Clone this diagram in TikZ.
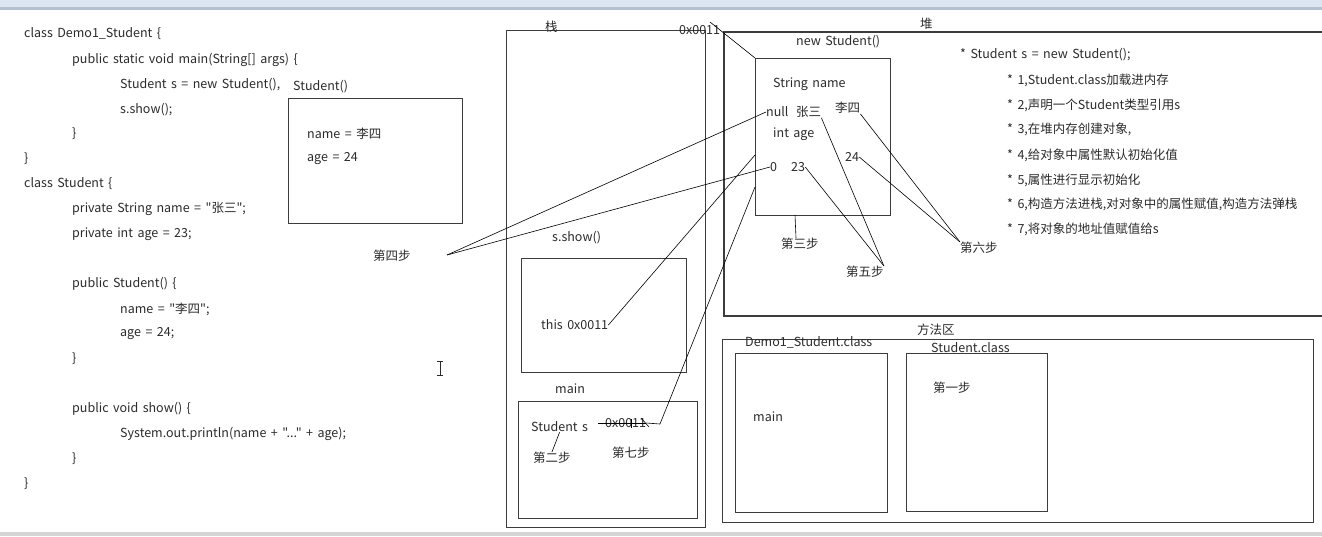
\documentclass[tikz,border=0pt]{standalone}
\usepackage{fontspec}
\newfontfamily\cf[WordSpace=1.6]{Noto Sans CJK SC}
\definecolor{txtgray}{HTML}{2B2B2B}
\definecolor{boxgray}{HTML}{3C3C3C}
\definecolor{topblue}{HTML}{DCE6F2}
\definecolor{topline}{HTML}{B4C0CE}
\definecolor{botgray}{HTML}{D4D4D4}
\begin{document}
\begin{tikzpicture}[x=1pt,y=-1pt,
  font=\cf\fontsize{12.5}{14}\selectfont,
  txt/.style={anchor=west, inner sep=0pt, text=txtgray},
  box/.style={draw=boxgray, line width=1.1pt, anchor=north west, inner sep=0pt, rectangle},
  wire/.style={draw=black, line width=0.6pt}]
\useasboundingbox (0,0) rectangle (1322,536);
% screenshot bands
\fill[topblue] (0,0) rectangle (1322,7);
\fill[topline] (0,7) rectangle (1322,10);
\fill[botgray] (0,532) rectangle (1322,536);

% ---------- code ----------
\node[txt] (c1) at (24,34) {class Demo1\_Student \{};
\node[txt] (c2) at (72,60) {public static void main(String[] args) \{};
\node[txt] (c3) at (120,85) {Student s = new Student(),};
\node[txt] (c4) at (120,110) {s.show();};
\node[txt] (c5) at (72,134) {\}};
\node[txt] (c6) at (24,159) {\}};
\node[txt] (c7) at (24,184) {class Student \{};
\node[txt] (c8) at (72,209) {private String name = "张三";};
\node[txt] (c9) at (72,234) {private int age = 23;};
\node[txt] (c10) at (72,284) {public Student() \{};
\node[txt] (c11) at (120,309) {name = "李四";};
\node[txt] (c12) at (120,334) {age = 24;};
\node[txt] (c13) at (72,359) {\}};
\node[txt] (c14) at (72,409) {public void show() \{};
\node[txt] (c15) at (120,434) {System.out.println(name + "...{}" + age);};
\node[txt] (c16) at (72,459) {\}};
\node[txt] (c17) at (24,484) {\}};

% constructor frame
\node[txt] (ctorl) at (293,87) {Student()};
\node[box, minimum width=174pt, minimum height=125pt] (ctor) at (288,98) {};
\node[txt] (cn) at (307,134) {name = 李四};
\node[txt] (ca) at (307,159) {age = 24};

\node[txt] (s4) at (373,256) {第四步};

% I-beam cursor
\draw[line width=0.8pt, draw=txtgray] (440,361) -- (440,375) (437,361) -- (443,361) (437,375) -- (443,375);

% ---------- stack ----------
\node[box, minimum width=199pt, minimum height=497pt] (stack) at (506,30) {};
\node[txt] (stackl) at (545,27) {栈};
\node[txt] (showl) at (552,238) {s.show()};
\node[box, minimum width=165pt, minimum height=114pt] (show) at (521,258) {};
\node[txt] (this) at (541,325) {this 0x0011};
\node[txt] (mainl) at (555,389) {main};
\node[box, minimum width=179pt, minimum height=117pt] (mainf) at (518,401) {};
\node[txt] (ss) at (531,427) {Student s};
\node[txt] (sref) at (605,423) {0x0011};
\node[txt] (s2) at (533,458) {第二步};
\node[txt] (s7) at (612,453) {第七步};
\draw[wire] (598,423) -- (sref.east);
\draw[wire] (sref.east) -- (660,424);
\draw[wire] (631,419) -- (631,428);
\draw[wire] (641,418) -- (649,427);

% ---------- heap ----------
\draw[draw=boxgray, line width=1.1pt] (1322,32) -- (724,32) -- (724,316) -- (1322,316);
\node[txt] (heapl) at (920,24) {堆};
\node[txt] (addr) at (679,30) {0x0011};
\node[txt] (objl) at (796,42) {new Student()};
\node[box, minimum width=135pt, minimum height=157pt] (obj) at (755,58) {};
\node[txt] (sname) at (773,84) {String name};
\node[txt] (null) at (766,112) {null};
\node[txt] (zs) at (796,112) {张三};
\node[txt] (ls) at (835,108) {李四};
\node[txt] (iage) at (773,134) {int age};
\node[txt] (zero) at (770,167) {0};
\node[txt] (v23) at (791,167) {23};
\node[txt] (v24) at (845,157) {24};
\node[txt] (s3) at (781,244) {第三步};
\node[txt] (s5) at (846,272) {第五步};
\node[txt] (s6) at (960,248) {第六步};

\node[txt] (n0) at (960,55) {* Student s = new Student();};
\node[txt] (n1) at (1007,80) {* 1,Student.class加载进内存};
\node[txt] (n2) at (1007,105) {* 2,声明一个Student类型引用s};
\node[txt] (n3) at (1007,129) {* 3,在堆内存创建对象,};
\node[txt] (n4) at (1007,155) {* 4,给对象中属性默认初始化值};
\node[txt] (n5) at (1007,180) {* 5,属性进行显示初始化};
\node[txt] (n6) at (1007,204) {* 6,构造方法进栈,对对象中的属性赋值,构造方法弹栈};
\node[txt] (n7) at (1007,229) {* 7,将对象的地址值赋值给s};

% ---------- method area ----------
\node[txt] (mal) at (917,330) {方法区};
\node[box, minimum width=591pt, minimum height=183pt] (ma) at (722,339) {};
\node[box, minimum width=152pt, minimum height=159pt] (dc) at (735,353) {};
\node[txt] (dcl) at (745,342) {Demo1\_Student.class};
\node[txt] (dmain) at (753,417) {main};
\node[box, minimum width=141pt, minimum height=158pt] (sc) at (906,353) {};
\node[txt] (scl) at (931,348) {Student.class};
\node[txt] (s1) at (933,388) {第一步};

% ---------- connectors ----------
\coordinate (s4p) at (447,255);
\coordinate (objL1) at (755,155);
\coordinate (objL2) at (755,187);
\coordinate (refEnd) at (660,424);
\coordinate (addrTop) at (710,22);
\draw[wire] (s4p) -- (null.west);
\draw[wire] (s4p) -- (zero.west);
\draw[wire] (this.east) -- (objL1);
\draw[wire] (refEnd) -- (objL2);
\draw[wire] (addrTop) -- (obj.north west);
\draw[wire] (795,215) -- (s3.north -| 796,0);
\draw[wire] (zs.south east) -- (s5.north east);
\draw[wire] (v23.east) -- (s5.north east);
\draw[wire] (ls.south east) -- (s6.north west);
\draw[wire] (v24.east) -- (s6.north west);
\draw[wire] (ss.south) -- (s2.north);
\end{tikzpicture}
\end{document}
